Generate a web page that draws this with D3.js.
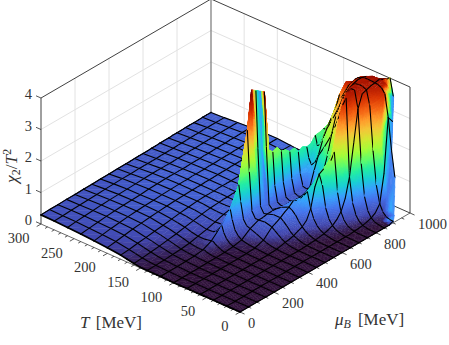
<!DOCTYPE html>
<html><head><meta charset="utf-8">
<script src="https://cdn.jsdelivr.net/npm/d3@7"></script>
<style>html,body{margin:0;padding:0;background:#fff}svg{display:block}
text{font-family:"Liberation Serif",serif;fill:#333}</style></head><body>
<script>
const tempValues = [0,5,10,15,20,25,30,35, 40,45,50,55,60,65,70,75,80, 90,100,105,110,114,117,120,125,130, 140,150,160,170,180, 200,220,240,260,280,300];
const muValues = [0,50,100,150,200,250,300,350,400,450,500,525,550,575,600,625,650,675,700,725,750,775,800,825,850,875,900,925,950,975,1000];
const tTicks = [0,50,100,150,200,250,300];
const muTicks = [0,200,400,600,800,1000];
const zTicks = [0,1,2,3,4];
// chi2/T^2, one list per mu value, following tempValues
const chi2ByMu = [
[0,0,0,0,0,0,0,0, 0,0,0,0,0,0,0,0,0, 0,0,0,.005,.005,.01,.01,.01,.01, .015,.02,.05,.09,.13, .18,.21,.24,.26,.28,.29],
[0,0,0,0,0,0,0,0, 0,0,0,0,0,0,0,0,0, 0,0,0,.005,.005,.01,.01,.01,.015, .02,.04,.07,.11,.15, .22,.25,.27,.29,.29,.3],
[0,0,0,0,0,0,0,0, 0,0,0,0,0,0,0,0,0, 0,0,.005,.01,.01,.01,.01,.015,.02, .03,.06,.1,.14,.19, .26,.29,.3,.31,.31,.3],
[0,0,0,0,0,0,0,0, 0,0,0,0,0,0,0,0,0, 0,.005,.01,.01,.015,.02,.02,.025,.03, .05,.09,.13,.18,.22, .3,.32,.33,.33,.32,.31],
[0,0,0,0,0,0,0,0, 0,0,0,0,0,0,0,0,0, .005,.01,.01,.015,.02,.03,.03,.03,.04, .07,.12,.17,.22,.26, .33,.35,.35,.35,.33,.31],
[0,0,0,0,0,0,0,0, 0,0,0,0,0,0,0,0,0, .005,.01,.015,.03,.05,.08,.07,.06,.07, .1,.16,.21,.26,.29, .36,.37,.37,.36,.34,.32],
[0,0,0,0,0,0,0,0, 0,0,0,0,0,0,0,0,.005, .01,.02,.05,.1,.15,.2,.2,.18,.16, .16,.2,.26,.3,.33, .38,.39,.38,.37,.35,.32],
[0,0,0,0,0,0,0,0, 0,0,0,0,0,0,0,.005,.01, .02,.05,.1,.2,.35,.55,.45,.3,.24, .22,.27,.31,.35,.37, .4,.4,.39,.38,.36,.33],
[0,0,0,0,0,0,0,0, 0,0,0,0,0,.005,.01,.02,.03, .05,.1,.18,.32,.6,.9,.7,.42,.32, .3,.32,.36,.39,.4, .42,.42,.41,.39,.37,.33],
[0,0,0,0,0,0,0,0, 0,0,0,.01,.02,.03,.05,.08,.12, .22,.3,.34,.5,1.0,1.53,1.15,.6,.42, .38,.38,.4,.42,.43, .43,.43,.42,.4,.37,.34],
[0,0,0,0,0,0,0,0, 0,.01,.02,.04,.08,.14,.22,.3,.38, .44,.42,.42,.6,1.8,3.1,2.2,1.0,.6, .44,.42,.42,.43,.44, .44,.44,.43,.41,.38,.34],
[0,0,0,0,0,0,0,0, 0,.02,.03,.06,.1,.17,.27,.36,.44, .48,.42,.42,.65,2.4,4.3,3.0,1.2,.65, .45,.43,.43,.44,.44, .44,.44,.43,.41,.38,.34],
[0,0,0,0,0,0,0,0, .01,.02,.05,.09,.14,.22,.34,.44,.52, .52,.45,.42,.6,2.4,4.2,3.0,1.2,.65, .46,.43,.43,.44,.44, .44,.44,.43,.41,.38,.35],
[0,0,0,0,0,0,0,0, .02,.04,.07,.12,.2,.3,.44,.54,.62, .56,.45,.42,.55,2.2,4.1,2.8,1.1,.6, .46,.44,.44,.44,.45, .45,.45,.43,.41,.38,.35],
[0,0,0,0,0,0,0,.01, .03,.06,.1,.17,.26,.38,.54,.64,.7, .6,.45,.4,.5,2.3,4.0,2.6,.9,.55, .46,.44,.44,.44,.45, .45,.45,.43,.41,.38,.35],
[0,0,0,0,0,0,0,.02, .05,.09,.15,.25,.38,.55,.75,.85,.82, .6,.42,.38,.45,1.0,2.08,1.2,.65,.52, .46,.44,.44,.44,.45, .45,.45,.43,.41,.39,.35],
[0,0,0,0,0,0,.02,.04, .07,.13,.22,.38,.68,1.17,1.02,.88,.75, .56,.4,.36,.42,.9,1.94,1.1,.62,.5, .46,.44,.44,.45,.45, .46,.45,.44,.42,.39,.36],
[0,0,0,0,0,0,.03,.06, .11,.2,.36,.68,1.3,1.28,1.0,.84,.72, .54,.4,.36,.42,.9,2.0,1.15,.6,.5, .46,.44,.44,.45,.45, .46,.46,.44,.42,.39,.36],
[0,0,0,0,0,.02,.05,.09, .17,.32,.62,1.3,1.62,1.2,.95,.8,.68, .5,.38,.36,.42,.85,1.8,1.05,.58,.5, .46,.44,.44,.45,.45, .46,.46,.44,.42,.39,.37],
[0,0,0,0,0,.03,.07,.14, .28,.55,1.15,1.9,1.7,1.25,.98,.8,.68, .5,.38,.35,.4,.8,1.77,1.0,.58,.5, .46,.44,.44,.45,.46, .47,.46,.45,.43,.4,.37],
[0,0,0,0,.02,.05,.1,.22, .45,1.0,2.25,1.95,1.55,1.25,1.02,.85,.72, .52,.38,.35,.4,.8,1.63,.95,.56,.48, .46,.44,.45,.45,.46, .47,.47,.45,.43,.4,.37],
[0,0,0,0,.03,.08,.17,.35, .8,2.0,3.1,2.5,2.0,1.6,1.3,1.05,.9, .65,.42,.38,.42,.85,1.67,1.0,.58,.5, .46,.44,.45,.45,.46, .47,.47,.45,.43,.4,.38],
[0,0,0,.02,.05,.12,.27,.6, 1.4,3.85,3.6,2.9,2.3,1.95,1.65,1.4,1.15, .85,.5,.42,.45,.8,1.47,.95,.6,.5, .46,.45,.45,.46,.46, .48,.47,.46,.44,.41,.38],
[0,0,0,.03,.08,.18,.42,1.0, 2.4,3.9,3.9,3.5,3.0,2.6,2.2,1.9,1.6, 1.25,.95,.8,.8,1.1,1.55,1.05,.65,.52, .47,.45,.45,.46,.47, .48,.48,.46,.44,.41,.38],
[0,0,.02,.05,.13,.3,.7,1.7, 3.4,3.95,3.95,3.8,3.5,3.15,2.8,2.5,2.2, 1.75,1.35,1.1,.98,1.15,1.47,1.1,.7,.55, .47,.45,.45,.46,.47, .48,.48,.46,.44,.41,.39],
[0,.02,.04,.09,.22,.5,1.2,2.6, 3.8,3.95,3.95,3.9,3.75,3.5,3.2,2.95,2.7, 2.2,1.75,1.45,1.2,1.25,1.5,1.2,.78,.58, .48,.45,.45,.46,.47, .49,.49,.47,.45,.42,.39],
[.05,.06,.1,.2,.42,.95,2.0,3.4, 3.85,3.9,3.92,3.9,3.85,3.7,3.5,3.25,3.0, 2.5,2.05,1.75,1.45,1.4,1.68,1.3,.85,.6, .5,.46,.45,.46,.47, .49,.49,.47,.45,.42,.39],
[null,.1,.25,.6,1.3,2.4,3.5,3.85, 3.9,3.92,3.92,3.92,3.9,3.8,3.65,3.45,3.25, 2.8,2.3,2.0,1.75,1.6,1.7,1.4,.95,.65, .52,.47,.46,.46,.47, .49,.49,.47,.45,.42,.39],
[null,null,1.2,2.0,3.0,3.7,3.85,3.9, 3.92,3.93,3.93,3.93,3.9,3.85,3.75,3.6,3.45, 3.0,2.5,2.2,1.95,1.75,1.75,1.5,1.05,.75, .6,.5,.46,.46,.47, .5,.5,.48,.45,.42,.4],
[null,null,null,null,2.8,3.6,3.9,3.95, 3.95,3.95,3.95,3.9,3.85,3.8,3.7,3.6,3.5, 3.4,2.9,2.35,2.1,1.9,1.77,1.55,1.2,.9, .7,.55,.47,.45,.47, .5,.5,.48,.45,.42,.4],
[null,null,null,null,null,3.45,4.0,3.93, 3.87,3.81,3.75,3.69,3.63,3.56,3.5,3.44,3.38, 3.26,3.0,2.4,2.2,2.0,1.85,1.6,1.3,1.1, .8,.6,.47,.45,.47, .5,.5,.48,.45,.42,.4]
];
// vertices whose rendered colour departs from their height: [T, mu, colour value]
const colourOverrides = [
[114,550,1.6],[117,550,1.6],[120,550,1.5],[114,575,.9],[117,575,.8],[120,575,.9],
[0,900,.7],[5,925,.7],[10,950,.7],[15,950,.7],[20,975,.7],[25,1000,.7],[5,900,1.0],[10,925,1.0],[20,950,1.4],[25,975,1.6],[30,1000,2.4],
[40,1000,4.1],[50,1000,4.1],[60,1000,4.1],[70,1000,4.1],[80,1000,4.1],[90,1000,4.0],[100,1000,3.8],
[40,975,4.1],[50,975,4.1],[60,975,4.0],[70,975,3.9],[80,975,3.9],[90,975,3.8]
];
const turboStops = ['#30123b','#4145ab','#4675ed','#39a2fc','#1bcfd4','#24eca6','#61fc6c','#a4fc3b','#d1e834','#f3c63a','#fe9b2d','#f36315','#d93806','#b11901','#7a0402'];
const colourStops = [0,.2,.6,.9,1.2,1.5,1.8,2.1,2.4,2.7,3.0,3.3,3.6,3.9,4.2];

const W=449,H=345, ox=240, oy=312;
const muX=d3.scaleLinear().domain([0,1000]).range([0,170]);
const muY=d3.scaleLinear().domain([0,1000]).range([0,-99]);
const tX=d3.scaleLinear().domain([0,300]).range([0,-199]);
const tY=d3.scaleLinear().domain([0,300]).range([0,-88]);
const zY=d3.scaleLinear().domain([0,4]).range([0,-126]);
const colour=d3.scaleLinear().domain(colourStops).range(turboStops).clamp(true);
const P=(T,mu,z)=>[ox+muX(mu)+tX(T), oy+muY(mu)+tY(T)+zY(z)];

const svg=d3.select('body').append('svg').attr('width',W).attr('height',H).attr('viewBox',`0 0 ${W} ${H}`);
const line=(g,a,b,stroke,w)=>g.append('line').attr('x1',a[0]).attr('y1',a[1]).attr('x2',b[0]).attr('y2',b[1]).attr('stroke',stroke).attr('stroke-width',w);

// walls
const back=svg.append('g');
const gridC='#e2e2e2';
zTicks.slice(1,-1).forEach(z=>{
  line(back,P(300,0,z),P(300,1000,z),gridC,1);
  line(back,P(300,1000,z),P(0,1000,z),gridC,1);
});
muTicks.slice(1,-1).forEach(m=>line(back,P(300,m,0),P(300,m,4),gridC,1));
tTicks.slice(1,-1).forEach(t=>line(back,P(t,1000,0),P(t,1000,4),gridC,1));
line(back,P(300,1000,0),P(300,1000,4),'#777',1.2);
const boxC='#2b2b2b';
line(back,P(300,0,4),P(300,1000,4),boxC,.9);
line(back,P(300,1000,4),P(0,1000,4),boxC,.9);
line(back,P(300,0,0),P(300,0,4),boxC,.9);
line(back,P(0,1000,0),P(0,1000,4),boxC,.9);
line(back,P(300,1000,0),P(0,1000,0),boxC,.9);
line(back,P(300,0,0),P(0,0,0),boxC,.7);
line(back,P(0,0,0),P(0,1000,0),boxC,.7);
// ticks
for(let t=0;t<=300;t+=10){const a=P(t,0,0),L=t%50===0?5:3;line(back,a,[a[0]-L*.86,a[1]+L*.5],boxC,.8);}
for(let m=0;m<=1000;m+=50){const a=P(0,m,0),L=m%200===0?5:3;line(back,a,[a[0]+L*.91,a[1]+L*.41],boxC,.8);}
zTicks.forEach(z=>{const a=P(300,0,z);line(back,a,[a[0]-5,a[1]-2.2],boxC,.8);});

// surface in back-to-front order
const overrideOf=new Map(colourOverrides.map(d=>[d[0]+'_'+d[1],d[2]]));
const vertex=(i,j)=>{
  const z=chi2ByMu[j][i]; if(z===null) return null;
  const T=tempValues[i],mu=muValues[j],p=P(T,mu,z),k=T+'_'+mu;
  return {x:p[0],y:p[1],c:overrideOf.has(k)?overrideOf.get(k):z};
};
const items=[];
const pathOf=pts=>'M'+pts.map(p=>p.x.toFixed(2)+','+p.y.toFixed(2)).join('L')+'Z';
const mid=(a,b)=>({x:(a.x+b.x)/2,y:(a.y+b.y)/2,c:(a.c+b.c)/2});
function addTri(a,b,c,depth){
  const spread=Math.max(a.c,b.c,c.c)-Math.min(a.c,b.c,c.c);
  if(depth>=4||spread<.08){items.push({d:pathOf([a,b,c]),fill:colour((a.c+b.c+c.c)/3)});return;}
  const ab=mid(a,b),bc=mid(b,c),ca=mid(c,a);
  addTri(a,ab,ca,depth+1);addTri(ab,b,bc,depth+1);addTri(ca,bc,c,depth+1);addTri(ab,bc,ca,depth+1);
}
const isMeshT=i=>tempValues[i]%20===0, isMeshMu=j=>muValues[j]%50===0;
const meshSeg=(a,b,w)=>{ if(a&&b) items.push({d:`M${a.x.toFixed(2)},${a.y.toFixed(2)}L${b.x.toFixed(2)},${b.y.toFixed(2)}`,stroke:'#000',w:w||1.1}); };
for(let i=tempValues.length-2;i>=0;i--){
  for(let j=muValues.length-2;j>=0;j--){
    const nn=vertex(i,j),fn=vertex(i+1,j),nf=vertex(i,j+1),ff=vertex(i+1,j+1);
    if(fn&&nf&&ff) addTri(fn,nf,ff,0);
    if(nn&&fn&&nf) addTri(nn,fn,nf,0);
    else if(nn&&fn&&ff&&!nf) addTri(nn,fn,ff,0);
    if(isMeshT(i+1)) meshSeg(fn,ff);
    if(isMeshMu(j+1)) meshSeg(nf,ff);
  }
}
for(let j=0;j<muValues.length-1;j++) meshSeg(vertex(0,j),vertex(0,j+1),1.1);
for(let i=0;i<tempValues.length-1;i++) meshSeg(vertex(i,0),vertex(i+1,0),1.7);
for(let j=0;j<muValues.length-1;j++) meshSeg(vertex(tempValues.length-1,j),vertex(tempValues.length-1,j+1),.8);

svg.append('g').attr('stroke-linecap','round').selectAll('path').data(items).join('path')
  .attr('d',d=>d.d)
  .attr('fill',d=>d.fill||'none')
  .attr('stroke',d=>d.stroke||d.fill)
  .attr('stroke-width',d=>d.stroke?d.w:.5);

// labels
const lab=svg.append('g').attr('font-size',14.5);
tTicks.forEach(t=>{const a=P(t,0,0);lab.append('text').attr('x',a[0]-11.5).attr('y',a[1]+19).attr('text-anchor','end').text(t);});
muTicks.forEach(m=>{const a=P(0,m,0);lab.append('text').attr('x',a[0]+8).attr('y',a[1]+16).text(m);});
zTicks.forEach(z=>{const a=P(300,0,z);lab.append('text').attr('x',32).attr('y',a[1]+1).attr('text-anchor','end').text(z);});

const xl=svg.append('text').attr('x',80).attr('y',328).attr('font-size',17);
xl.append('tspan').attr('font-style','italic').text('T');
xl.append('tspan').attr('dx',2).text(' [MeV]');
const yl=svg.append('text').attr('x',335).attr('y',325).attr('font-size',17);
yl.append('tspan').attr('font-style','italic').text('μ');
yl.append('tspan').attr('font-style','italic').attr('font-size',12).attr('dy',3).text('B');
yl.append('tspan').attr('dy',-3).attr('dx',7).text('[MeV]');
const zl=svg.append('text').attr('transform','translate(17,183) rotate(-90)').attr('font-size',17.5);
zl.append('tspan').attr('font-style','italic').text('χ');
zl.append('tspan').attr('font-size',12).attr('dy',3).text('2');
zl.append('tspan').attr('dy',-3).text('/');
zl.append('tspan').attr('font-style','italic').text('T');
zl.append('tspan').attr('font-size',12).attr('dy',-6).text('2');
</script></body></html>
